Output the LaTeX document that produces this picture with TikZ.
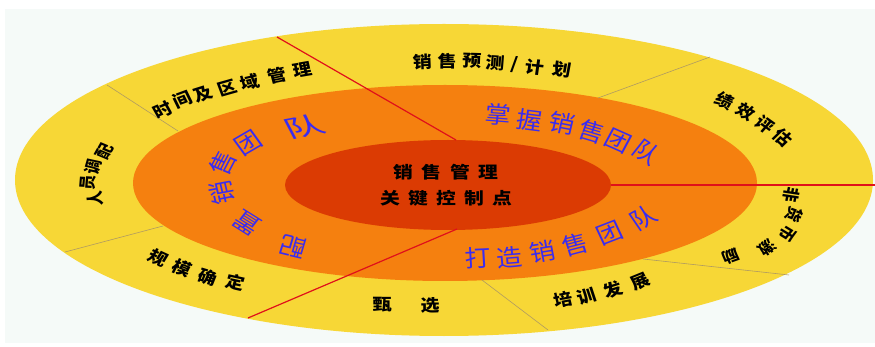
\documentclass[tikz,border=0pt]{standalone}
\usepackage{fontspec}
\newfontfamily\cjk{Noto Sans CJK SC}
\definecolor{bgc}{HTML}{F5FAF8}
\definecolor{ringA}{HTML}{F7D736}
\definecolor{ringB}{HTML}{F5800F}
\definecolor{ringC}{HTML}{DB3B03}
\definecolor{sepgray}{HTML}{B09A62}
\definecolor{sepred}{HTML}{E0101A}
\definecolor{bluetxt}{HTML}{3A2CF0}
\begin{document}
\begin{tikzpicture}[x=1pt,y=-1pt,
  outerch/.style={font=\cjk\bfseries\fontsize{16.5}{16.5}\selectfont, inner sep=0pt, text=black},
  smallch/.style={font=\cjk\bfseries\fontsize{15}{15}\selectfont, inner sep=0pt, text=black},
  bluech/.style={font=\cjk\fontsize{23.5}{23.5}\selectfont, inner sep=0pt, text=bluetxt},
  centerch/.style={font=\cjk\bfseries\fontsize{16.5}{16.5}\selectfont, inner sep=0pt, text=black},
  redsep/.style={draw=sepred, line width=1.2pt},
  graysep/.style={draw=sepgray, line width=0.6pt}]
\useasboundingbox (0,0) rectangle (875,347);
\fill[white] (0,0) rectangle (875,347);
\fill[bgc] (5,9) rectangle (875,343);
% rings
\fill[ringA] (444,180) ellipse [x radius=429pt, y radius=156pt];
\fill[ringB] (445,183) ellipse [x radius=312pt, y radius=98pt];
\fill[ringC] (448,185) ellipse [x radius=163pt, y radius=45pt];
% separator end points
\coordinate (r1a) at (277,37);  \coordinate (r1b) at (456,140);
\coordinate (r2a) at (611,185); \coordinate (r2b) at (875,185);
\coordinate (r3a) at (248,318); \coordinate (r3b) at (457,229);
\coordinate (g1a) at (107,85);  \coordinate (g1b) at (178,131);
\coordinate (g2a) at (65,252);  \coordinate (g2b) at (163,226);
\coordinate (g3a) at (710,57);  \coordinate (g3b) at (598,98);
\coordinate (g4a) at (643,259); \coordinate (g4b) at (789,275);
\coordinate (g5a) at (482,280); \coordinate (g5b) at (548,330);
\draw[graysep] (g1a) -- (g1b);
\draw[graysep] (g2a) -- (g2b);
\draw[graysep] (g3a) -- (g3b);
\draw[graysep] (g4a) -- (g4b);
\draw[graysep] (g5a) -- (g5b);
\draw[redsep] (r1a) -- (r1b);
\draw[redsep] (r2a) -- (r2b);
\draw[redsep] (r3a) -- (r3b);
% centre
\foreach \c/\x/\y [count=\i] in {销/403/172, 售/431/172, 管/460/172, 理/488/172}
  \node[centerch, xscale=1.2] (ca\i) at (\x,\y) {\c};
\foreach \c/\x/\y [count=\i] in {关/390/198, 键/418/198, 控/446/198, 制/474/198, 点/502/198}
  \node[centerch, xscale=1.2] (cb\i) at (\x,\y) {\c};
% outer ring labels
\foreach \c/\x/\y/\r [count=\i] in {时/163/110/26, 间/182/100/23, 及/203/94/20, 区/227/88/18, 域/250/82/15, 管/277/75/13, 理/302/70/11}
  \node[outerch, xscale=1.15, rotate=\r] (oa\i) at (\x,\y) {\c};
\foreach \c/\x/\y/\r [count=\i] in {销/423/62/2, 售/447/61/0, 预/472/61/-2, 测/495/63/-4, \slash/515/65/-5, 计/535/67/-7, 划/562/70/-9}
  \node[outerch, xscale=1.15, rotate=\r] (ob\i) at (\x,\y) {\c};
\foreach \c/\x/\y/\r [count=\i] in {绩/725/101/-28, 效/746/112/-33, 评/765/125/-38, 估/783/138/-43}
  \node[outerch, xscale=1.1, rotate=\r] (oc\i) at (\x,\y) {\c};
\foreach \c/\x/\y/\r [count=\i] in {人/95/199/95, 员/88/183/86, 调/93/167/76, 配/105/151/64}
  \node[smallch, xscale=1.15, rotate=\r] (od\i) at (\x,\y) {\c};
\foreach \c/\x/\y/\r [count=\i] in {规/158/258/-28, 模/182/268/-24, 确/208/277/-19, 定/235/282/-14}
  \node[outerch, xscale=1.15, rotate=\r] (oe\i) at (\x,\y) {\c};
\foreach \c/\x/\y/\r [count=\i] in {甄/382/305/0, 选/430/305/0}
  \node[outerch, xscale=1.15, rotate=\r] (of\i) at (\x,\y) {\c};
\foreach \c/\x/\y/\r [count=\i] in {培/563/300/12, 训/587/296/16, 发/613/290/20, 展/640/282/25}
  \node[outerch, xscale=1.15, rotate=\r] (og\i) at (\x,\y) {\c};
\foreach \c/\x/\y/\r [count=\i] in {非/791/195/-100, 货/794/215/-112, 币/788/234/-125, 激/767/248/-140, 励/731/256/-158}
  \node[smallch, xscale=1.15, rotate=\r] (oh\i) at (\x,\y) {\c};
% blue labels
\foreach \c/\x/\y/\r [count=\i] in {配/293/247/165, 置/247/223/145, 销/222/193/102, 售/223/163/65, 团/248/143/33}
  \node[bluech, xscale=1.12, rotate=\r] (ba\i) at (\x,\y) {\c};
\node[bluech, xscale=1.7, rotate=17] (ba6) at (304,127) {队};
\foreach \c/\x/\y/\r [count=\i] in {掌/498/115/-5, 握/530/120/-8, 销/562/123/-12, 售/592/132/-18, 团/618/141/-26, 队/647/152/-36}
  \node[bluech, xscale=1.1, rotate=\r] (bb\i) at (\x,\y) {\c};
\foreach \c/\x/\y/\r [count=\i] in {打/478/258/3, 造/510/257/5, 销/543/252/10, 售/575/245/16, 团/610/233/23, 队/643/218/32}
  \node[bluech, xscale=1.1, rotate=\r] (bc\i) at (\x,\y) {\c};
\end{tikzpicture}
\end{document}
